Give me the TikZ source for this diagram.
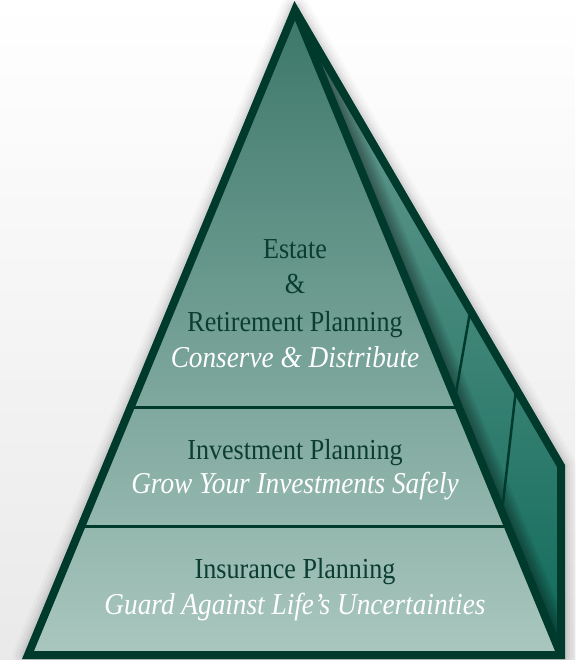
\documentclass[tikz,border=0pt]{standalone}
\usepackage{fontspec}
\setmainfont{Liberation Serif}[FakeStretch=0.9]
\usetikzlibrary{calc}
\definecolor{edge}{HTML}{003A2C}
\definecolor{txt}{HTML}{0B3D30}
\definecolor{ftop}{HTML}{3B7769}
\definecolor{fbot}{HTML}{AAC7BF}
\definecolor{stop}{HTML}{6E9E94}
\definecolor{sbot}{HTML}{0F6B5A}
\begin{document}
\begin{tikzpicture}[x=1pt,y=-1pt,
  lbl/.style={anchor=base, text=txt, font=\fontsize{29}{32}\selectfont},
  sub/.style={anchor=base, text=white, font=\fontsize{30.3}{32}\selectfont\itshape},
  rim/.style={draw=edge, line width=8pt, line join=miter},
  tier/.style={draw=edge, line width=3pt},
  facet/.style={draw=edge, line width=2.5pt}]
\useasboundingbox (0,0) rectangle (575,660);
\shade[top color=white, middle color=gray!6, bottom color=gray!17] (0,0) rectangle (575,660);
\coordinate (A) at (295,10);
\coordinate (BL) at (28,655);
\coordinate (BR) at (561,655);
\coordinate (SC) at (561,466);
% soft halo
\foreach \w/\o in {30/0.025,24/0.03,18/0.04,13/0.05}
  \draw[black, opacity=\o, line width=\w pt, line join=round] (A)--(BL)--(BR)--(SC)--cycle;
% faces
\shade[top color=ftop, bottom color=fbot] (A)--(BL)--(BR)--cycle;
\shade[top color=stop, bottom color=sbot] (A)--(BR)--(SC)--cycle;
\begin{scope}
  \clip (A)--(BR)--(SC)--cycle;
  \foreach \d in {1,...,24}{
    \pgfmathsetmacro{\op}{0.3*(1-\d/25)}
    \draw[black, opacity=\op, line width=1.15pt]
      ($(A)+(0.924*\d,0.383*\d)$) -- ($(BR)+(0.924*\d,0.383*\d)$);
  }
\end{scope}
% tier dividers
\coordinate (d1l) at ($(A)!0.617!(BL)$);
\coordinate (d1r) at ($(A)!0.617!(BR)$);
\coordinate (d2l) at ($(A)!0.8!(BL)$);
\coordinate (d2r) at ($(A)!0.8!(BR)$);
\draw[tier] (d1l) -- (d1r);
\draw[tier] (d2l) -- (d2r);
% side facets
\coordinate (f1a) at ($(A)!0.6016!(BR)$);
\coordinate (f1b) at ($(A)!0.659!(SC)$);
\coordinate (f2a) at ($(A)!0.778!(BR)$);
\coordinate (f2b) at ($(A)!0.831!(SC)$);
\draw[facet] (f1a) -- (f1b);
\draw[facet] (f2a) -- (f2b);
% rims
\draw[rim] (A)--(BL)--(BR)--(SC)--cycle;
\draw[rim] (A)--(BR);
% text
\node[lbl] (estate) at (295,258) {Estate};
\node[lbl] (amp) at (295,293) {\&};
\node[lbl] (ret) at (295,331) {Retirement Planning};
\node[sub] (cons) at (295,367) {Conserve \& Distribute};
\node[lbl] (inv) at (295,459) {Investment Planning};
\node[sub] (grow) at (295,493) {Grow Your Investments Safely};
\node[lbl] (ins) at (295,578) {Insurance Planning};
\node[sub] (guard) at (295,614) {Guard Against Life’s Uncertainties};
\end{tikzpicture}
\end{document}
